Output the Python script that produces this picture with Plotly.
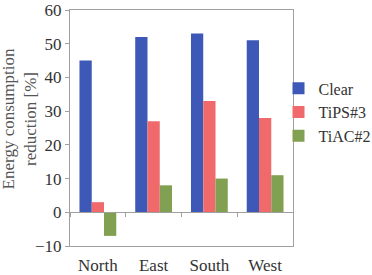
import plotly.graph_objects as go

categories = ["North", "East", "South", "West"]
clear = [45, 52, 53, 51]
tips3 = [3, 27, 33, 28]
tiac2 = [-7, 8, 10, 11]
series_names = ["Clear", "TiPS#3", "TiAC#2"]
colors = ["#3d58b6", "#f06a6c", "#81a052"]
y_min, y_max = -10, 60
y_ticks = [-10, 0, 10, 20, 30, 40, 50, 60]
y_title = "Energy consumption<br>reduction [%]"

font_family = "Liberation Serif"
txt = "#333333"
axis_col = "#a0a0a0"

fig = go.Figure()
for name, vals, col in zip(series_names, [clear, tips3, tiac2], colors):
    fig.add_trace(go.Bar(x=categories, y=vals, name=name, marker=dict(color=col, line=dict(width=0))))

# invisible trace to carry the category axis drawn at y = 0
fig.add_trace(go.Scatter(x=categories, y=[None] * len(categories), xaxis="x2", mode="markers",
                         showlegend=False, hoverinfo="skip", marker=dict(opacity=0)))

fig.update_layout(
    width=372, height=275,
    margin=dict(l=70, r=79, t=10, b=29, autoexpand=False),
    paper_bgcolor="white", plot_bgcolor="white",
    barmode="group", bargap=0.34, bargroupgap=0,
    font=dict(family=font_family, size=16, color=txt),
    showlegend=True,
    legend=dict(x=0.935, y=0.74, xanchor="left", yanchor="top",
                font=dict(family=font_family, size=16, color=txt),
                itemwidth=30, tracegroupgap=0, bgcolor="rgba(0,0,0,0)"),
    xaxis=dict(categoryorder="array", categoryarray=categories, range=[-0.5, 3.5],
               showline=True, linecolor=axis_col, linewidth=1, mirror=True,
               ticks="outside", ticklen=4, tickcolor="rgba(0,0,0,0)", showgrid=False,
               automargin=False,
               tickfont=dict(family=font_family, size=17, color=txt)),
    xaxis2=dict(overlaying="x", anchor="free", position=(0 - y_min) / (y_max - y_min),
                categoryorder="array", categoryarray=categories, range=[-0.5, 3.5],
                showline=True, linecolor=axis_col, linewidth=1,
                ticks="outside", ticklen=4, tickcolor=axis_col, tickson="boundaries",
                showticklabels=False, showgrid=False),
    yaxis=dict(range=[y_min, y_max], tickvals=y_ticks, showgrid=False, zeroline=False,
               showline=True, linecolor=axis_col, linewidth=1, mirror=True,
               ticks="outside", ticklen=4, tickcolor=axis_col, automargin=False,
               tickfont=dict(family=font_family, size=17, color=txt)),
    annotations=[dict(text=y_title, textangle=-90, xref="paper", yref="paper",
                      x=-0.225, y=0.54, xanchor="center", yanchor="middle",
                      showarrow=False,
                      font=dict(family=font_family, size=17, color="#555555"))],
)

fig.write_html("out.html")
